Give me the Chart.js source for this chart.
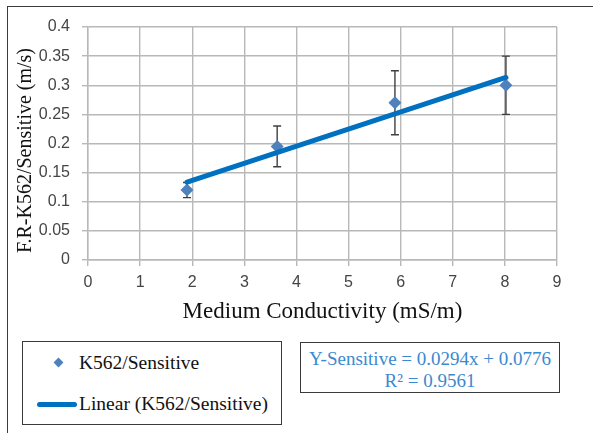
<!DOCTYPE html>
<html>
<head>
<meta charset="utf-8">
<script src="https://cdn.jsdelivr.net/npm/chart.js@4.4.1/dist/chart.umd.min.js"></script>
<style>
html,body{margin:0;padding:0;background:#fff;overflow:hidden;}
#wrap{position:relative;width:593px;height:433px;overflow:hidden;}
#frame{position:absolute;left:7px;top:6px;width:700px;height:600px;border-left:1.6px solid #3c3c3c;border-top:1.6px solid #3c3c3c;}
#c{position:absolute;left:0;top:0;}
.box{position:absolute;border:1.5px solid #3a3a3a;background:#fff;box-sizing:border-box;font-family:"Liberation Serif","Times New Roman",serif;}
#legend{left:22px;top:341px;width:260px;height:84px;color:#111;font-size:19.5px;}
.lrow{position:absolute;left:56px;white-space:nowrap;line-height:22px;}
#diamond{position:absolute;left:32px;top:17px;width:7px;height:7px;background:#4f81bd;transform:rotate(45deg);}
#lsample{position:absolute;left:14px;top:60px;width:40px;height:5px;background:#0070c0;border-radius:2.5px;}
#eq{left:300px;top:342px;width:260px;height:51px;color:#3a8ad0;text-align:center;line-height:21.5px;padding-top:5px;font-size:19px;}
</style>
</head>
<body>
<div id="wrap">
<div id="frame"></div>
<canvas id="c" width="593" height="433"></canvas>
<div id="legend" class="box">
  <div id="diamond"></div>
  <div class="lrow" style="top:10px;">K562/Sensitive</div>
  <div id="lsample"></div>
  <div class="lrow" style="top:51px;">Linear (K562/Sensitive)</div>
</div>
<div id="eq" class="box">
  <div id="eqLine1"></div>
  <div id="eqLine2"></div>
</div>
</div>
<script>
// ---- data ----
const conductivity = [1.9, 3.63, 5.89, 8.02];        // mS/m
const velocity = [0.12, 0.195, 0.27, 0.30];          // m/s
const errorBar = [0.013, 0.035, 0.055, 0.05];        // +/- error
const trendX = [1.9, 8.02];
const trendY = [0.1335, 0.3134];
const xTickLabels = ['0','1','2','3','4','5','6','7','8','9'];
const yTickLabels = ['0','0.05','0.1','0.15','0.2','0.25','0.3','0.35','0.4'];
const seriesName = 'K562/Sensitive';
const trendName = 'Linear (K562/Sensitive)';
const equationText = 'Y-Sensitive = 0.0294x + 0.0776';
const r2Text = 'R\u00B2 = 0.9561';
const xTitle = 'Medium Conductivity (mS/m)';
const yTitle = 'F.R-K562/Sensitive (m/s)';

document.getElementById('eqLine1').textContent = equationText;
document.getElementById('eqLine2').textContent = r2Text;

const serifFamily = '"Liberation Serif","Times New Roman",serif';

const errorBarPlugin = {
  id: 'errorBars',
  beforeDatasetsDraw(chart) {
    const {ctx, scales: {x, y}} = chart;
    ctx.save();
    ctx.strokeStyle = '#3f3f3f';
    ctx.lineWidth = 1.4;
    conductivity.forEach((cx, i) => {
      const px = x.getPixelForValue(cx);
      const top = y.getPixelForValue(velocity[i] + errorBar[i]);
      const bot = y.getPixelForValue(velocity[i] - errorBar[i]);
      ctx.beginPath();
      ctx.moveTo(px, top); ctx.lineTo(px, bot);
      ctx.moveTo(px - 4, top); ctx.lineTo(px + 4, top);
      ctx.moveTo(px - 4, bot); ctx.lineTo(px + 4, bot);
      ctx.stroke();
    });
    ctx.restore();
  }
};

const yTitlePlugin = {
  id: 'yTitle',
  afterDraw(chart) {
    const {ctx} = chart;
    ctx.save();
    ctx.translate(26, 150.5);
    ctx.rotate(-Math.PI / 2);
    ctx.font = '20px ' + serifFamily;
    ctx.fillStyle = '#111';
    ctx.textAlign = 'center';
    ctx.textBaseline = 'middle';
    ctx.fillText(yTitle, 0, 0);
    ctx.restore();
  }
};

const gridColor = '#b8b8b8';
const tickFont = {family: '"Liberation Sans",Arial,sans-serif', size: 16};

new Chart(document.getElementById('c'), {
  type: 'scatter',
  data: {
    datasets: [
      {
        label: trendName,
        data: trendX.map((v, i) => ({x: v, y: trendY[i]})),
        showLine: true,
        borderColor: '#0070c0',
        borderWidth: 5,
        borderCapStyle: 'round',
        pointRadius: 0,
        order: 0
      },
      {
        label: seriesName,
        data: conductivity.map((v, i) => ({x: v, y: velocity[i]})),
        pointStyle: 'rectRot',
        pointRadius: 6.5,
        backgroundColor: '#4f81bd',
        borderColor: '#4f81bd',
        borderWidth: 0,
        order: 1
      }
    ]
  },
  options: {
    responsive: false,
    animation: false,
    devicePixelRatio: 1,
    layout: {padding: {left: 0, top: 27, right: 36, bottom: 103}},
    plugins: {legend: {display: false}, tooltip: {enabled: false}},
    scales: {
      x: {
        type: 'linear', min: 0, max: 9,
        afterFit: s => { s.height = 70; },
        ticks: {stepSize: 1, color: '#454545', font: tickFont, padding: 7,
                callback: (v, i) => xTickLabels[i]},
        grid: {color: gridColor, lineWidth: 1.4, tickLength: 6},
        border: {color: gridColor, width: 1.4},
        title: {display: true, text: xTitle, color: '#111', font: {family: serifFamily, size: 23}, padding: {top: 0, bottom: 4}}
      },
      y: {
        type: 'linear', min: 0, max: 0.4,
        afterFit: s => { s.width = 88; },
        ticks: {stepSize: 0.05, color: '#454545', font: tickFont, padding: 12,
                callback: (v, i) => yTickLabels[i]},
        grid: {color: gridColor, lineWidth: 1.4, tickLength: 6},
        border: {color: gridColor, width: 1.4},
        title: {display: false}
      }
    }
  },
  plugins: [errorBarPlugin, yTitlePlugin]
});
</script>
</body>
</html>
